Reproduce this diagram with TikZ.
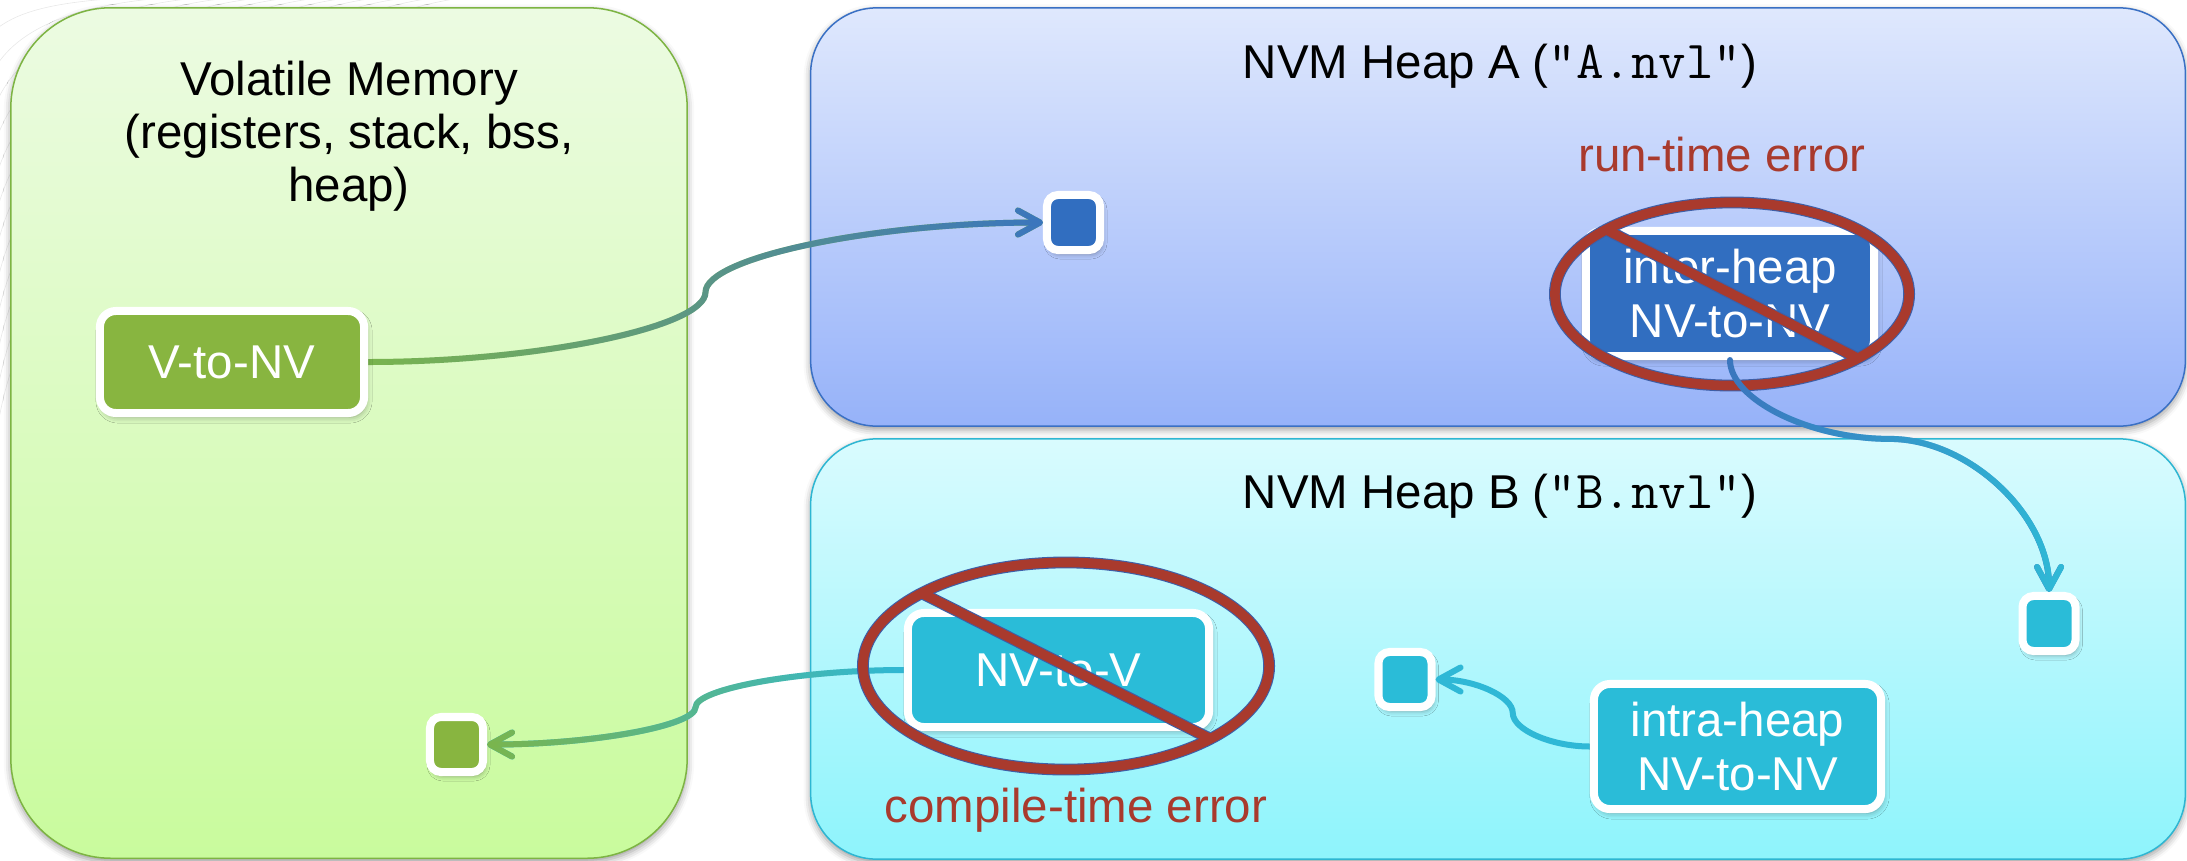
\documentclass[tikz,border=0pt]{standalone}
\usepackage{fontspec}
\setmainfont{Liberation Sans}
\usetikzlibrary{arrows.meta,calc,fadings,shadows.blur}

\definecolor{volTop}{HTML}{ECFBE2}
\definecolor{volBot}{HTML}{C9FB9D}
\definecolor{volLine}{HTML}{7DB443}
\definecolor{aTop}{HTML}{DFE8FD}
\definecolor{aBot}{HTML}{96B2F9}
\definecolor{aLine}{HTML}{3A70C4}
\definecolor{bTop}{HTML}{D9FBFE}
\definecolor{bBot}{HTML}{8EF4FC}
\definecolor{bLine}{HTML}{2EB6D2}
\definecolor{boxGreen}{HTML}{88B540}
\definecolor{boxBlue}{HTML}{316EC0}
\definecolor{boxCyan}{HTML}{2ABCD8}
\definecolor{errRed}{HTML}{A93A2D}
\definecolor{ringBlue}{HTML}{3D5FA8}
\definecolor{linkGreen}{HTML}{7AB54E}
\definecolor{linkBlue}{HTML}{3B76BE}
\definecolor{linkCyan}{HTML}{2FB8D6}

% opaque on the right / on the left
\tikzfading[name=fadeinR, left color=transparent!100, right color=transparent!0]
\tikzfading[name=fadeinL, left color=transparent!0, right color=transparent!100]

\newcommand\diagfont{\fontsize{13.5}{15.1}\selectfont}
\newcommand\filename[1]{{\fontsize{15.2}{15.1}\selectfont\ttfamily #1}}

\begin{document}
\begin{tikzpicture}[x=0.01cm, y=-0.01cm,
  every node/.style={font=\diagfont},
  container/.style={rectangle, inner sep=0pt, line width=0.015cm,
    rounded corners=0.66cm,
    blur shadow={shadow xshift=0cm, shadow yshift=-0.035cm,
      shadow blur radius=0.07cm, shadow opacity=40}},
  chip/.style={rectangle, draw=white, line width=0.08cm, rounded corners=0.16cm,
    text=white, align=center, inner sep=0pt,
    blur shadow={shadow xshift=0.02cm, shadow yshift=-0.04cm,
      shadow blur radius=0.06cm, shadow opacity=35}},
  cell/.style={rectangle, draw=white, line width=0.08cm, rounded corners=0.11cm,
    inner sep=0pt, minimum width=0.53cm, minimum height=0.55cm,
    blur shadow={shadow xshift=0.02cm, shadow yshift=-0.04cm,
      shadow blur radius=0.05cm, shadow opacity=35}},
  link/.style={line width=0.06cm, line cap=round,
    -{Straight Barb[round,length=0.22cm,width=0.24cm]}},
  % curved connector, horizontal at both ends, bend half way
  hconn/.style={to path={
    let \p1=(\tikztostart), \p2=(\tikztotarget) in
    .. controls ({0.75*\x1+0.25*\x2},\y1) and ({0.5*\x1+0.5*\x2},{0.75*\y1+0.25*\y2})
    .. ({0.5*\x1+0.5*\x2},{0.5*\y1+0.5*\y2})
    .. controls ({0.5*\x1+0.5*\x2},{0.25*\y1+0.75*\y2}) and ({0.25*\x1+0.75*\x2},\y2)
    .. (\tikztotarget) \tikztonodes}},
  % curved connector, vertical at both ends, bend at a third of the drop
  vconn/.style={to path={
    let \p1=(\tikztostart), \p2=(\tikztotarget) in
    .. controls (\x1,{0.83*\y1+0.17*\y2}) and ({0.75*\x1+0.25*\x2},{0.66*\y1+0.34*\y2})
    .. ({0.5*\x1+0.5*\x2},{0.66*\y1+0.34*\y2})
    .. controls ({0.25*\x1+0.75*\x2},{0.66*\y1+0.34*\y2}) and (\x2,{0.33*\y1+0.67*\y2})
    .. (\tikztotarget) \tikztonodes}},
  title/.style={inner sep=0pt, anchor=base, align=center},
  errlabel/.style={text=errRed, inner sep=0pt, anchor=base},
  ringout/.style={ringBlue, line width=0.118cm},
  ringin/.style={errRed, line width=0.096cm}
]
\useasboundingbox (0,0) rectangle (2187,860);

% faint background swirl in the corner
\foreach \k in {0,...,11}{
  \draw[black!9, line width=0.006cm]
    (-5,{30+\k*38}) .. controls (20,{10+\k*16}) and ({60+\k*25},-2) .. ({180+\k*28},-4);
}

% memory regions
\node[container, draw=volLine, top color=volTop, bottom color=volBot,
  rounded corners=1cm, minimum width=6.76cm, minimum height=8.5cm] (vol) at (349,433) {};
\node[container, draw=aLine, top color=aTop, bottom color=aBot,
  minimum width=13.74cm, minimum height=4.18cm] (heapA) at (1498,217) {};
\node[container, draw=bLine, top color=bTop, bottom color=bBot,
  minimum width=13.74cm, minimum height=4.2cm] (heapB) at (1498,649) {};

% region titles
\node[title, anchor=north] (volTitle) at (349,60)
  {Volatile Memory\\(registers, stack, bss,\\heap)};
\node[title] (titleA) at (1500,78) {NVM Heap A (\filename{"A.nvl"})};
\node[title] (titleB) at (1500,508) {NVM Heap B (\filename{"B.nvl"})};

% pointer targets
\node[cell, fill=boxBlue] (cellA) at (1073.5,222.5) {};
\node[cell, fill=boxGreen] (cellV) at (456.5,744.5) {};
\node[cell, fill=boxCyan] (cellB1) at (1405,679.5) {};
\node[cell, fill=boxCyan] (cellB2) at (2049,623.5) {};

% where the connectors leave the pointer boxes
\coordinate (vtonvOut) at (368,362);
\coordinate (nvtovOut) at (904,670);
\coordinate (intraOut) at (1590,746.5);

% connectors drawn beneath the pointer boxes
\draw[link, linkGreen] (vtonvOut) to[hconn] (cellA.west);
\draw[link, linkBlue, path fading=fadeinR] (vtonvOut) to[hconn] (cellA.west);
\draw[link, linkCyan] (nvtovOut) to[hconn] (cellV.east);
\draw[link, linkGreen, path fading=fadeinL] (nvtovOut) to[hconn] (cellV.east);
\draw[link, linkCyan] (intraOut) to[hconn] (cellB1.east);

% pointer boxes
\node[chip, fill=boxGreen, minimum width=2.64cm, minimum height=1.02cm]
  (vtonv) at (232,362) {V-to-NV};
\node[chip, fill=boxBlue, minimum width=2.88cm, minimum height=1.25cm]
  (inter) at (1730,293.5) {inter-heap\\NV-to-NV};
\node[chip, fill=boxCyan, minimum width=3.01cm, minimum height=1.14cm]
  (nvtov) at (1058.5,670) {NV-to-V};
\node[chip, fill=boxCyan, minimum width=2.87cm, minimum height=1.25cm]
  (intra) at (1737.5,746.5) {intra-heap\\NV-to-NV};

% prohibition signs
\coordinate (signA) at (1732,294);
\coordinate (signB) at (1066,666);
\draw[ringout] ($(signA)+(225:176 and 90)$) -- ($(signA)+(45:176 and 90)$);
\draw[ringout] (signA) ellipse [x radius=1.77cm, y radius=0.915cm];
\draw[ringout] ($(signB)+(225:202 and 102)$) -- ($(signB)+(45:202 and 102)$);
\draw[ringout] (signB) ellipse [x radius=2.03cm, y radius=1.035cm];
\draw[ringin] ($(signA)+(225:176 and 90)$) -- ($(signA)+(45:176 and 90)$);
\draw[ringin] (signA) ellipse [x radius=1.77cm, y radius=0.915cm];
\draw[ringin] ($(signB)+(225:202 and 102)$) -- ($(signB)+(45:202 and 102)$);
\draw[ringin] (signB) ellipse [x radius=2.03cm, y radius=1.035cm];

% inter-heap connector runs over the sign
\draw[link, linkBlue] (inter.south) to[vconn] (cellB2.north);
\draw[link, linkCyan, path fading=fadeinR] (inter.south) to[vconn] (cellB2.north);

% error labels
\node[errlabel] (rtErr) at (1722,171) {run-time error};
\node[errlabel] (ctErr) at (1076,822) {compile-time error};
\end{tikzpicture}
\end{document}
